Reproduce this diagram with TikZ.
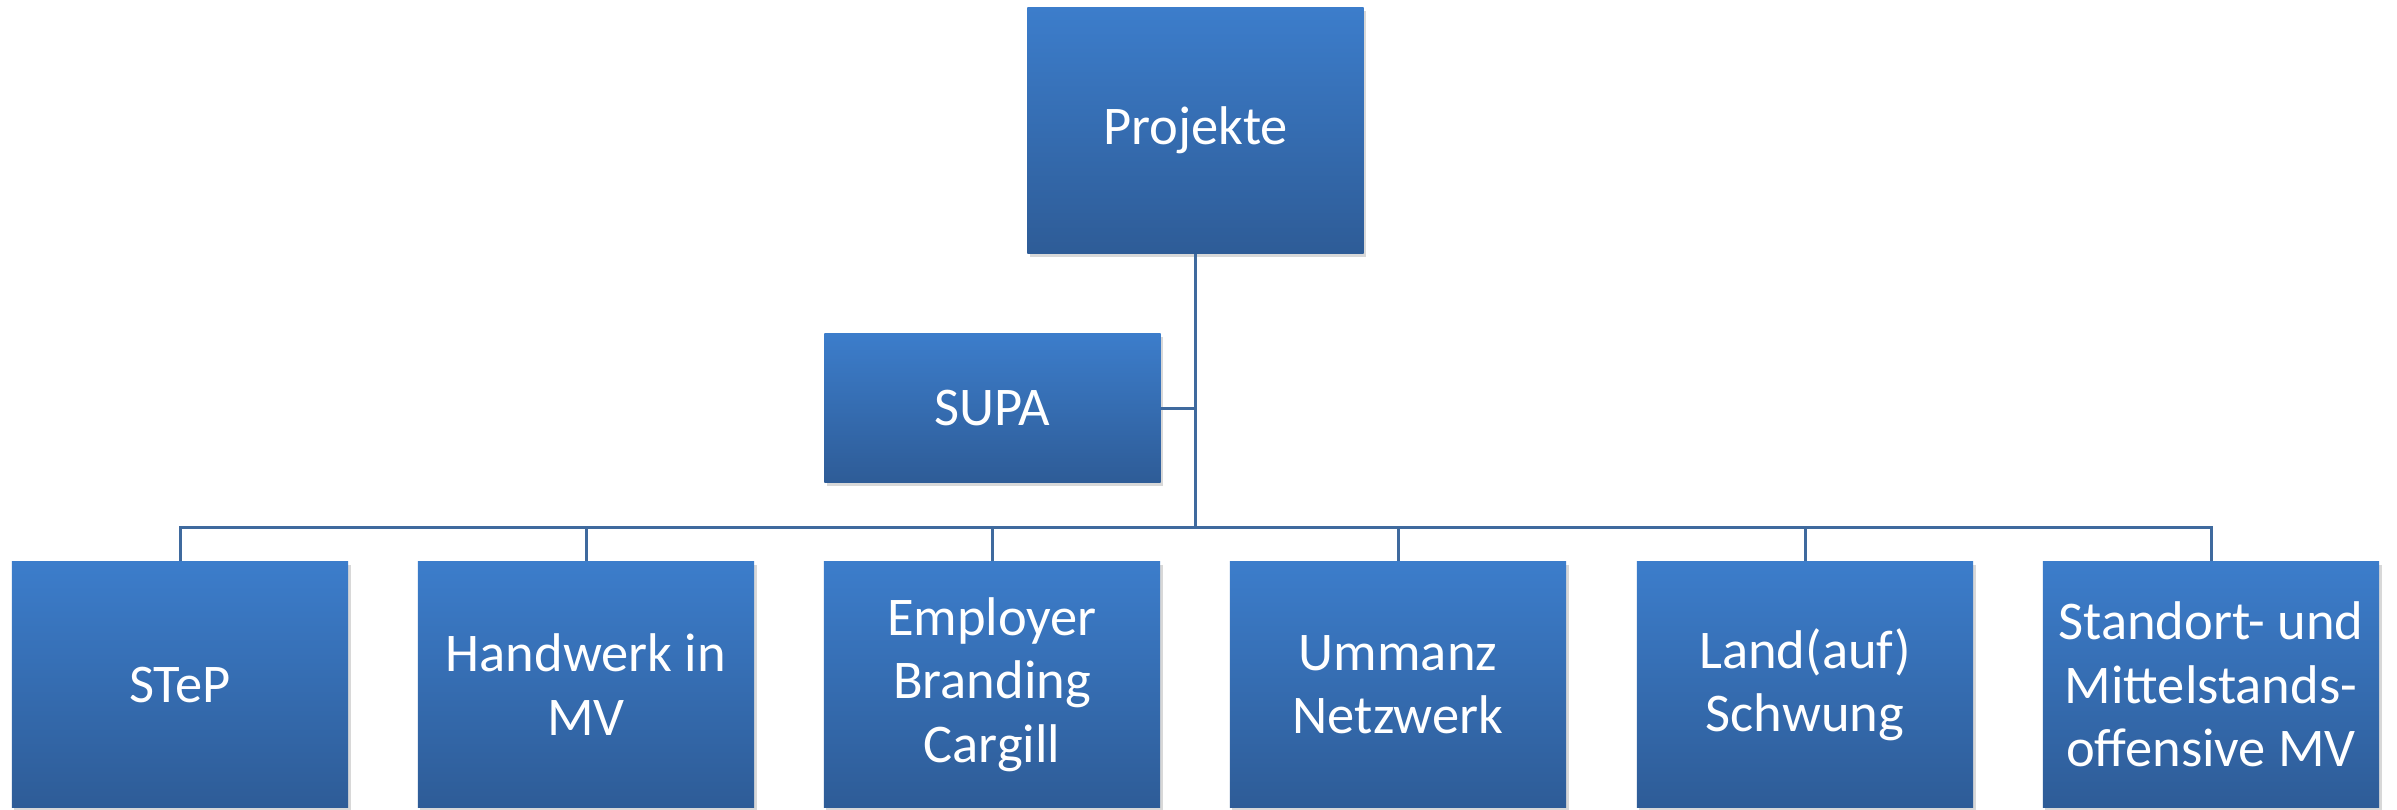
\documentclass[tikz,border=0pt]{standalone}
\usepackage{fontspec}
\setmainfont{Carlito}
\usetikzlibrary{shadows}
\definecolor{boxtop}{HTML}{3C7DCB}
\definecolor{boxbot}{HTML}{2E5C97}
\definecolor{linec}{HTML}{3F6A9E}
\tikzset{
  orgbox/.style={rectangle, inner sep=0pt, minimum width=3.36cm, top color=boxtop, bottom color=boxbot,
    text=white, align=center, font=\fontsize{15.5}{18}\selectfont,
    drop shadow={shadow xshift=0.025cm, shadow yshift=-0.035cm, opacity=0.25, fill=black!60}},
  tallbox/.style={orgbox, minimum height=2.45cm},
  flatbox/.style={orgbox, minimum height=1.48cm},
  conn/.style={draw=linec, line width=0.03cm}
}
\begin{document}
\begin{tikzpicture}[x=0.01cm, y=-0.01cm]
\useasboundingbox (0,0) rectangle (2397,809);
\fill[white] (0,0) rectangle (2397,809);
\node[tallbox] (proj) at (1195.5,130.5) {Projekte};
\node[flatbox] (supa) at (992.5,408) {SUPA};
\node[tallbox] (c1) at (180,684.5) {STeP};
\node[tallbox] (c2) at (586,684.5) {Handwerk in\\MV};
\node[tallbox] (c3) at (992,684.5) {Employer\\Branding\\Cargill};
\node[tallbox] (c4) at (1398,684.5) {Ummanz\\Netzwerk};
\node[tallbox] (c5) at (1805,684.5) {Land(auf)\\Schwung};
\node[tallbox] (c6) at (2211,684.5) {Standort- und\\Mittelstands-\\offensive MV};
\coordinate (bus) at (1195.5,527);
\begin{scope}[on background layer/.try]
\end{scope}
\draw[conn] (proj.south) -- (bus);
\draw[conn] (supa.east) -- (supa.east -| proj.south);
\foreach \c in {c1,c2,c3,c4,c5,c6}{
  \draw[conn] (bus) -| (\c.north);
}
\end{tikzpicture}
\end{document}
